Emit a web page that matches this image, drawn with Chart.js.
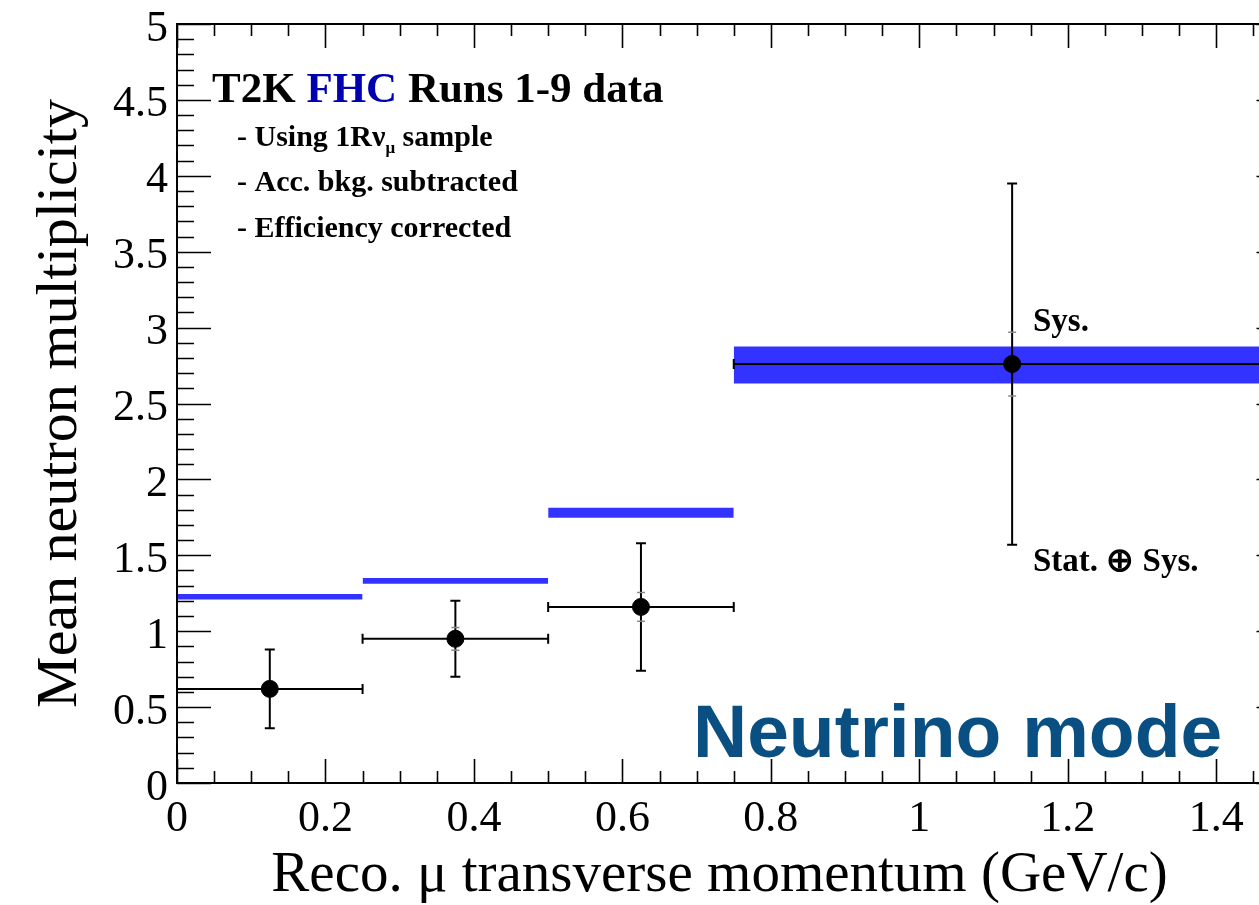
<!DOCTYPE html>
<html>
<head>
<meta charset="utf-8">
<script src="https://cdn.jsdelivr.net/npm/chart.js@4.4.1/dist/chart.umd.min.js"></script>
<style>
  html, body { margin: 0; padding: 0; background: #fff; overflow: hidden; }
  #wrap { width: 1300px; height: 905px; }
</style>
</head>
<body>
<div id="wrap"><canvas id="chart" width="1300" height="905"></canvas></div>
<script>
// reco muon pT bins (GeV/c)
const binLo = [0, 0.25, 0.5, 0.75];
const binHi = [0.25, 0.5, 0.75, 1.5];
const binCenter = [0.125, 0.375, 0.625, 1.125];

// measured mean neutron multiplicity with stat+sys and sys-only errors
const meanMult = [0.62, 0.95, 1.16, 2.76];
const totErr = [0.26, 0.25, 0.42, 1.19];
const sysErr = [0.04, 0.075, 0.095, 0.21];

// blue prediction band per bin (centre and half width)
const bandMid = [1.227, 1.331, 1.781, 2.754];
const bandHalf = [0.018, 0.019, 0.033, 0.122];

const xTicks = [0, 0.2, 0.4, 0.6, 0.8, 1.0, 1.2, 1.4];
const yTicks = [0, 0.5, 1, 1.5, 2, 2.5, 3, 3.5, 4, 4.5, 5];

const X_MAX = 1.5;
const Y_MAX = 5;
const BLUE = '#3333ff';
const SERIF = '"Liberation Serif", "Times New Roman", serif';

const datasets = [];

// prediction bands: upper edge filled down to lower edge
binLo.forEach((lo, i) => {
  const idx = datasets.length;
  datasets.push({
    data: [{x: lo, y: bandMid[i] + bandHalf[i]}, {x: binHi[i], y: bandMid[i] + bandHalf[i]}],
    showLine: true, borderWidth: 0, pointRadius: 0,
    backgroundColor: BLUE, fill: idx + 1, order: 5
  });
  datasets.push({
    data: [{x: lo, y: bandMid[i] - bandHalf[i]}, {x: binHi[i], y: bandMid[i] - bandHalf[i]}],
    showLine: true, borderWidth: 0, pointRadius: 0, fill: false, order: 5
  });
});

// bin width bars
binLo.forEach((lo, i) => {
  datasets.push({
    data: [{x: lo, y: meanMult[i]}, {x: binHi[i], y: meanMult[i]}],
    showLine: true, borderColor: '#000', borderWidth: 2,
    pointStyle: 'line', pointRotation: 90, pointRadius: 5,
    pointBorderColor: '#000', pointBorderWidth: 2, order: 3
  });
});

// total error bars
binCenter.forEach((c, i) => {
  datasets.push({
    data: [{x: c, y: meanMult[i] - totErr[i]}, {x: c, y: meanMult[i] + totErr[i]}],
    showLine: true, borderColor: '#000', borderWidth: 2,
    pointStyle: 'line', pointRadius: 5,
    pointBorderColor: '#000', pointBorderWidth: 2, order: 3
  });
});

// systematic-only caps
binCenter.forEach((c, i) => {
  datasets.push({
    data: [{x: c, y: meanMult[i] - sysErr[i]}, {x: c, y: meanMult[i] + sysErr[i]}],
    showLine: false, pointStyle: 'line', pointRadius: 4,
    pointBorderColor: '#8a8a8a', pointBorderWidth: 1.5, order: 2
  });
});

// data points
datasets.push({
  data: binCenter.map((c, i) => ({x: c, y: meanMult[i]})),
  showLine: false, pointStyle: 'circle', pointRadius: 8.5,
  pointBackgroundColor: '#000', pointBorderColor: '#000', pointBorderWidth: 1, order: 1
});

// inward ticks and full frame, ROOT style
const rootFrame = {
  id: 'rootFrame',
  afterDatasetsDraw(chart) {
    const {ctx, chartArea: a, scales: {x, y}} = chart;
    ctx.save();
    ctx.strokeStyle = '#000';
    ctx.lineWidth = 1.6;
    ctx.beginPath();
    for (let i = 0; i <= 30; i++) {
      const px = Math.round(x.getPixelForValue(i * 0.05)) + 0.5;
      const len = i % 4 === 0 ? 24 : 12;
      ctx.moveTo(px, a.bottom); ctx.lineTo(px, a.bottom - len);
      ctx.moveTo(px, a.top); ctx.lineTo(px, a.top + len);
    }
    for (let i = 0; i <= 50; i++) {
      const py = Math.round(y.getPixelForValue(i * 0.1)) + 0.5;
      const len = i % 5 === 0 ? 34 : 17;
      ctx.moveTo(a.left, py); ctx.lineTo(a.left + len, py);
      ctx.moveTo(a.right, py); ctx.lineTo(a.right - len, py);
    }
    ctx.stroke();
    ctx.lineWidth = 2;
    ctx.strokeRect(a.left, a.top, a.right - a.left, a.bottom - a.top);
    ctx.restore();
  }
};

function runs(ctx, x, yb, parts) {
  let cx = x;
  parts.forEach(p => {
    ctx.font = p.font;
    ctx.fillStyle = p.color || '#000';
    ctx.fillText(p.text, cx, yb + (p.dy || 0));
    cx += ctx.measureText(p.text).width;
  });
}

// labels inside the frame
const captions = {
  id: 'captions',
  afterDraw(chart) {
    const ctx = chart.ctx;
    ctx.save();
    ctx.textBaseline = 'alphabetic';
    ctx.textAlign = 'left';
    const big = 'bold 43px ' + SERIF;
    runs(ctx, 212, 102, [
      {text: 'T2K ', font: big},
      {text: 'FHC', font: big, color: '#0000b0'},
      {text: ' Runs 1-9 data', font: big}
    ]);
    const small = 'bold 30px ' + SERIF;
    runs(ctx, 237, 146, [
      {text: '- Using 1R\u03bd', font: small},
      {text: '\u03bc', font: 'bold 17px ' + SERIF, dy: 7},
      {text: ' sample', font: small}
    ]);
    runs(ctx, 237, 191, [{text: '- Acc. bkg. subtracted', font: small}]);
    runs(ctx, 237, 237, [{text: '- Efficiency corrected', font: small}]);
    const side = 'bold 33px ' + SERIF;
    runs(ctx, 1033, 331, [{text: 'Sys.', font: side}]);
    runs(ctx, 1033, 571, [{text: 'Stat. \u2295 Sys.', font: side}]);
    runs(ctx, 693, 757, [{text: 'Neutrino mode', font: 'bold 75px "Liberation Sans", Arial, sans-serif', color: '#0a4f82'}]);
    ctx.restore();
  }
};

const fmt = v => String(Number(v.toFixed(1)));

new Chart(document.getElementById('chart'), {
  type: 'scatter',
  data: {datasets},
  plugins: [rootFrame, captions],
  options: {
    responsive: false,
    animation: false,
    layout: {padding: {top: 24, right: 6, left: 0, bottom: 0}},
    plugins: {legend: {display: false}, tooltip: {enabled: false}},
    scales: {
      x: {
        type: 'linear', min: 0, max: X_MAX,
        afterBuildTicks: s => { s.ticks = xTicks.map(v => ({value: v})); },
        afterFit: s => { s.height = 122; s.paddingLeft = 0; s.paddingRight = 0; },
        grid: {display: false, drawTicks: false},
        border: {display: false},
        ticks: {color: '#000', padding: 10, callback: fmt, maxRotation: 0, autoSkip: false,
                font: {family: SERIF, size: 44}},
        // trailing en space nudges the centred title a little to the left
        title: {display: true, text: 'Reco. \u03bc transverse momentum (GeV/c)\u2002', color: '#000',
                font: {family: SERIF, size: 57, lineHeight: 1}, padding: {bottom: 0}}
      },
      y: {
        type: 'linear', min: 0, max: Y_MAX,
        afterBuildTicks: s => { s.ticks = yTicks.map(v => ({value: v})); },
        afterFit: s => { s.width = 177; s.paddingTop = 0; s.paddingBottom = 0; },
        grid: {display: false, drawTicks: false},
        border: {display: false},
        ticks: {color: '#000', padding: 9, labelOffset: 5, callback: fmt, autoSkip: false,
                font: {family: SERIF, size: 44}},
        title: {display: true, text: 'Mean neutron multiplicity', color: '#000',
                font: {family: SERIF, size: 58, lineHeight: 1}, padding: {top: 32}}
      }
    }
  }
});
</script>
</body>
</html>
